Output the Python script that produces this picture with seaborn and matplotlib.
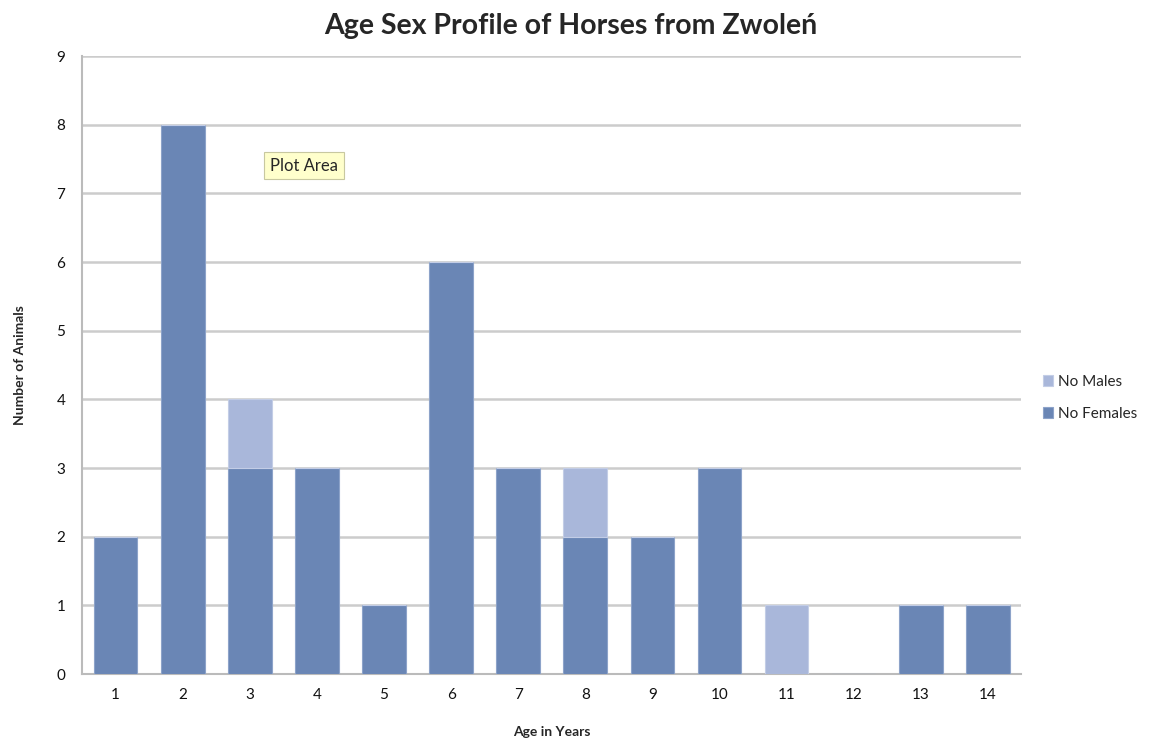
import matplotlib
matplotlib.use("Agg")
import matplotlib.pyplot as plt
import pandas as pd
import seaborn as sns

ages = [1, 2, 3, 4, 5, 6, 7, 8, 9, 10, 11, 12, 13, 14]
females = [2, 8, 3, 3, 1, 6, 3, 2, 2, 3, 0, 0, 1, 1]
males = [0, 0, 1, 0, 0, 0, 0, 1, 0, 0, 1, 0, 0, 0]

df = pd.DataFrame({"age": [str(a) for a in ages], "females": females, "males": males})

sns.set_style("white")
plt.rcParams['font.family'] = ['Lato', 'DejaVu Sans']

fig = plt.figure(figsize=(11.64, 7.49), dpi=100)
ax = fig.add_axes([0.0705, 0.100, 0.807, 0.825])

dark = "#6a86b5"
light = "#a9b7da"

sns.barplot(data=df, x="age", y="females", color=dark, width=0.65, saturation=1,
            edgecolor="#8da3c9", linewidth=0.8, ax=ax, zorder=3, label="No Females")
sns.barplot(data=df, x="age", y="males", color=light, width=0.65, saturation=1,
            bottom=df["females"], edgecolor="#c3cde6", linewidth=0.8, ax=ax,
            zorder=3, label="No Males")

ax.set_ylim(0, 9)
ax.set_xlim(-0.5, 13.5)
ax.set_yticks(range(0, 10))
ax.yaxis.grid(True, color="#cccccc", linewidth=1.8, zorder=0)
ax.set_axisbelow(True)
for s in ["top", "right"]:
    ax.spines[s].set_visible(False)
for s in ["left", "bottom"]:
    ax.spines[s].set_color("#bbbbbb")
    ax.spines[s].set_linewidth(1.5)
ax.tick_params(axis="both", length=0, labelsize=11, colors="#111111")
ax.tick_params(axis="x", pad=10)
ax.tick_params(axis="y", pad=12)

ax.set_xlabel("Age in Years", fontsize=10, fontweight="bold", labelpad=17)
ax.set_ylabel("Number of Animals", fontsize=10, fontweight="bold", labelpad=22)
fig.suptitle("Age Sex Profile of Horses from Zwoleń", fontsize=20.5, fontweight="bold",
             x=0.49, y=0.982)

handles, labels = ax.get_legend_handles_labels()
ax.legend(handles[::-1], labels[::-1], loc="center left", bbox_to_anchor=(1.008, 0.447),
          frameon=False, fontsize=11, handlelength=0.7, handleheight=0.7,
          handletextpad=0.3, labelspacing=1.2)

ax.text(0.20, 0.823, "Plot Area", transform=ax.transAxes, fontsize=12,
        va="center", ha="left", zorder=5,
        bbox=dict(boxstyle="square,pad=0.35", facecolor="#ffffcc", edgecolor="#c8c8a0",
                  linewidth=0.8))

fig.savefig("out.png", dpi=100)
